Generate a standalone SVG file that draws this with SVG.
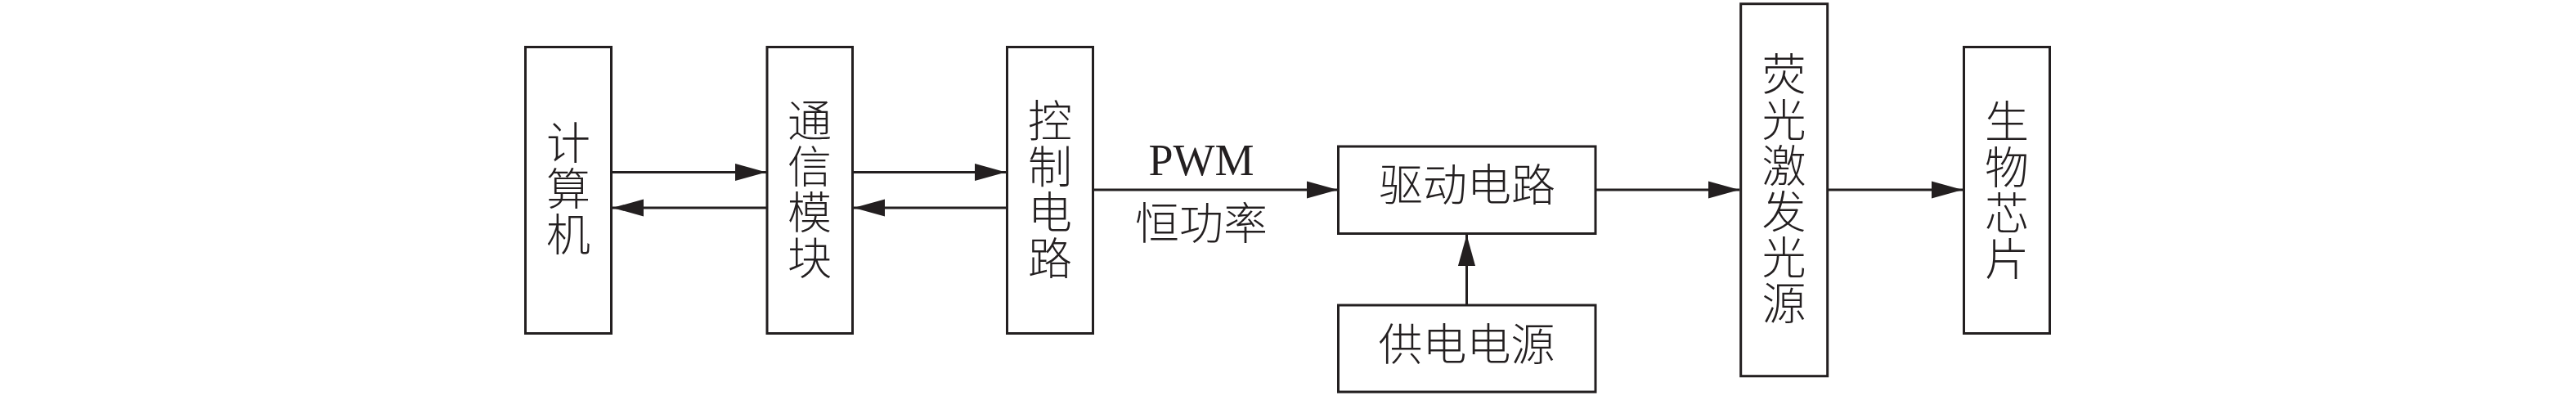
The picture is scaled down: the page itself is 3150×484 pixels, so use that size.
<svg xmlns="http://www.w3.org/2000/svg" width="3150" height="484" viewBox="0 0 3150 484">
<style>
.box{fill:#fff;stroke:#231f20;stroke-width:3}
.cn{font-family:"Liberation Serif","Noto Sans CJK SC",serif;font-size:54px;fill:#231f20;text-anchor:middle;dominant-baseline:central;font-weight:300}
.en{font-family:"Liberation Serif",serif;font-size:54px;fill:#231f20;text-anchor:middle}
.ln{stroke:#231f20;stroke-width:3;fill:none;marker-end:url(#ah)}
</style>
<defs>
<marker id="ah" markerUnits="userSpaceOnUse" markerWidth="38" markerHeight="22" viewBox="0 0 36 20" refX="36" refY="10" orient="auto">
<path d="M0,0 L36,10 L0,20 Z" fill="#231f20"/>
</marker>
</defs>
<rect width="3150" height="484" fill="#fff"/>
<g id="connectors">
<line class="ln" x1="748" y1="210.5" x2="937" y2="210.5"/>
<line class="ln" x1="938" y1="254" x2="749" y2="254"/>
<line class="ln" x1="1042" y1="210.5" x2="1230" y2="210.5"/>
<line class="ln" x1="1232" y1="254" x2="1044" y2="254"/>
<line class="ln" x1="1337" y1="232" x2="1636" y2="232"/>
<line class="ln" x1="1951" y1="232" x2="2127" y2="232"/>
<line class="ln" x1="2235" y1="232" x2="2400" y2="232"/>
<line class="ln" x1="1793.5" y1="373" x2="1793.5" y2="287"/>
</g>
<g id="label-pwm">
<text class="en" x="1469" y="214">PWM</text>
<text class="cn" x="1469" y="275">恒功率</text>
</g>
<g id="node-computer">
<rect class="box" x="642.5" y="57.5" width="105" height="350"/>
<text class="cn"><tspan x="695" y="177.3">计</tspan><tspan x="695" y="233.3">算</tspan><tspan x="695" y="289.3">机</tspan></text>
</g>
<g id="node-comm">
<rect class="box" x="938" y="57.5" width="104.5" height="350"/>
<text class="cn"><tspan x="990" y="150">通</tspan><tspan x="990" y="206">信</tspan><tspan x="990" y="262">模</tspan><tspan x="990" y="318">块</tspan></text>
</g>
<g id="node-control">
<rect class="box" x="1231.5" y="57.5" width="105" height="350"/>
<text class="cn"><tspan x="1284" y="150">控</tspan><tspan x="1284" y="206">制</tspan><tspan x="1284" y="262">电</tspan><tspan x="1284" y="318">路</tspan></text>
</g>
<g id="node-driver">
<rect class="box" x="1636.5" y="179" width="314.5" height="106.5"/>
<text class="cn" x="1794" y="228">驱动电路</text>
</g>
<g id="node-power">
<rect class="box" x="1636.5" y="373" width="314.5" height="106"/>
<text class="cn" x="1793.5" y="422.5">供电电源</text>
</g>
<g id="node-source">
<rect class="box" x="2128.7" y="4.7" width="106" height="455"/>
<text class="cn"><tspan x="2181.5" y="93.3">荧</tspan><tspan x="2181.5" y="149.3">光</tspan><tspan x="2181.5" y="205.3">激</tspan><tspan x="2181.5" y="261.3">发</tspan><tspan x="2181.5" y="317.3">光</tspan><tspan x="2181.5" y="373.3">源</tspan></text>
</g>
<g id="node-chip">
<rect class="box" x="2401.5" y="57.5" width="105" height="350"/>
<text class="cn"><tspan x="2454" y="151">生</tspan><tspan x="2454" y="207">物</tspan><tspan x="2454" y="263">芯</tspan><tspan x="2454" y="319">片</tspan></text>
</g>
</svg>
